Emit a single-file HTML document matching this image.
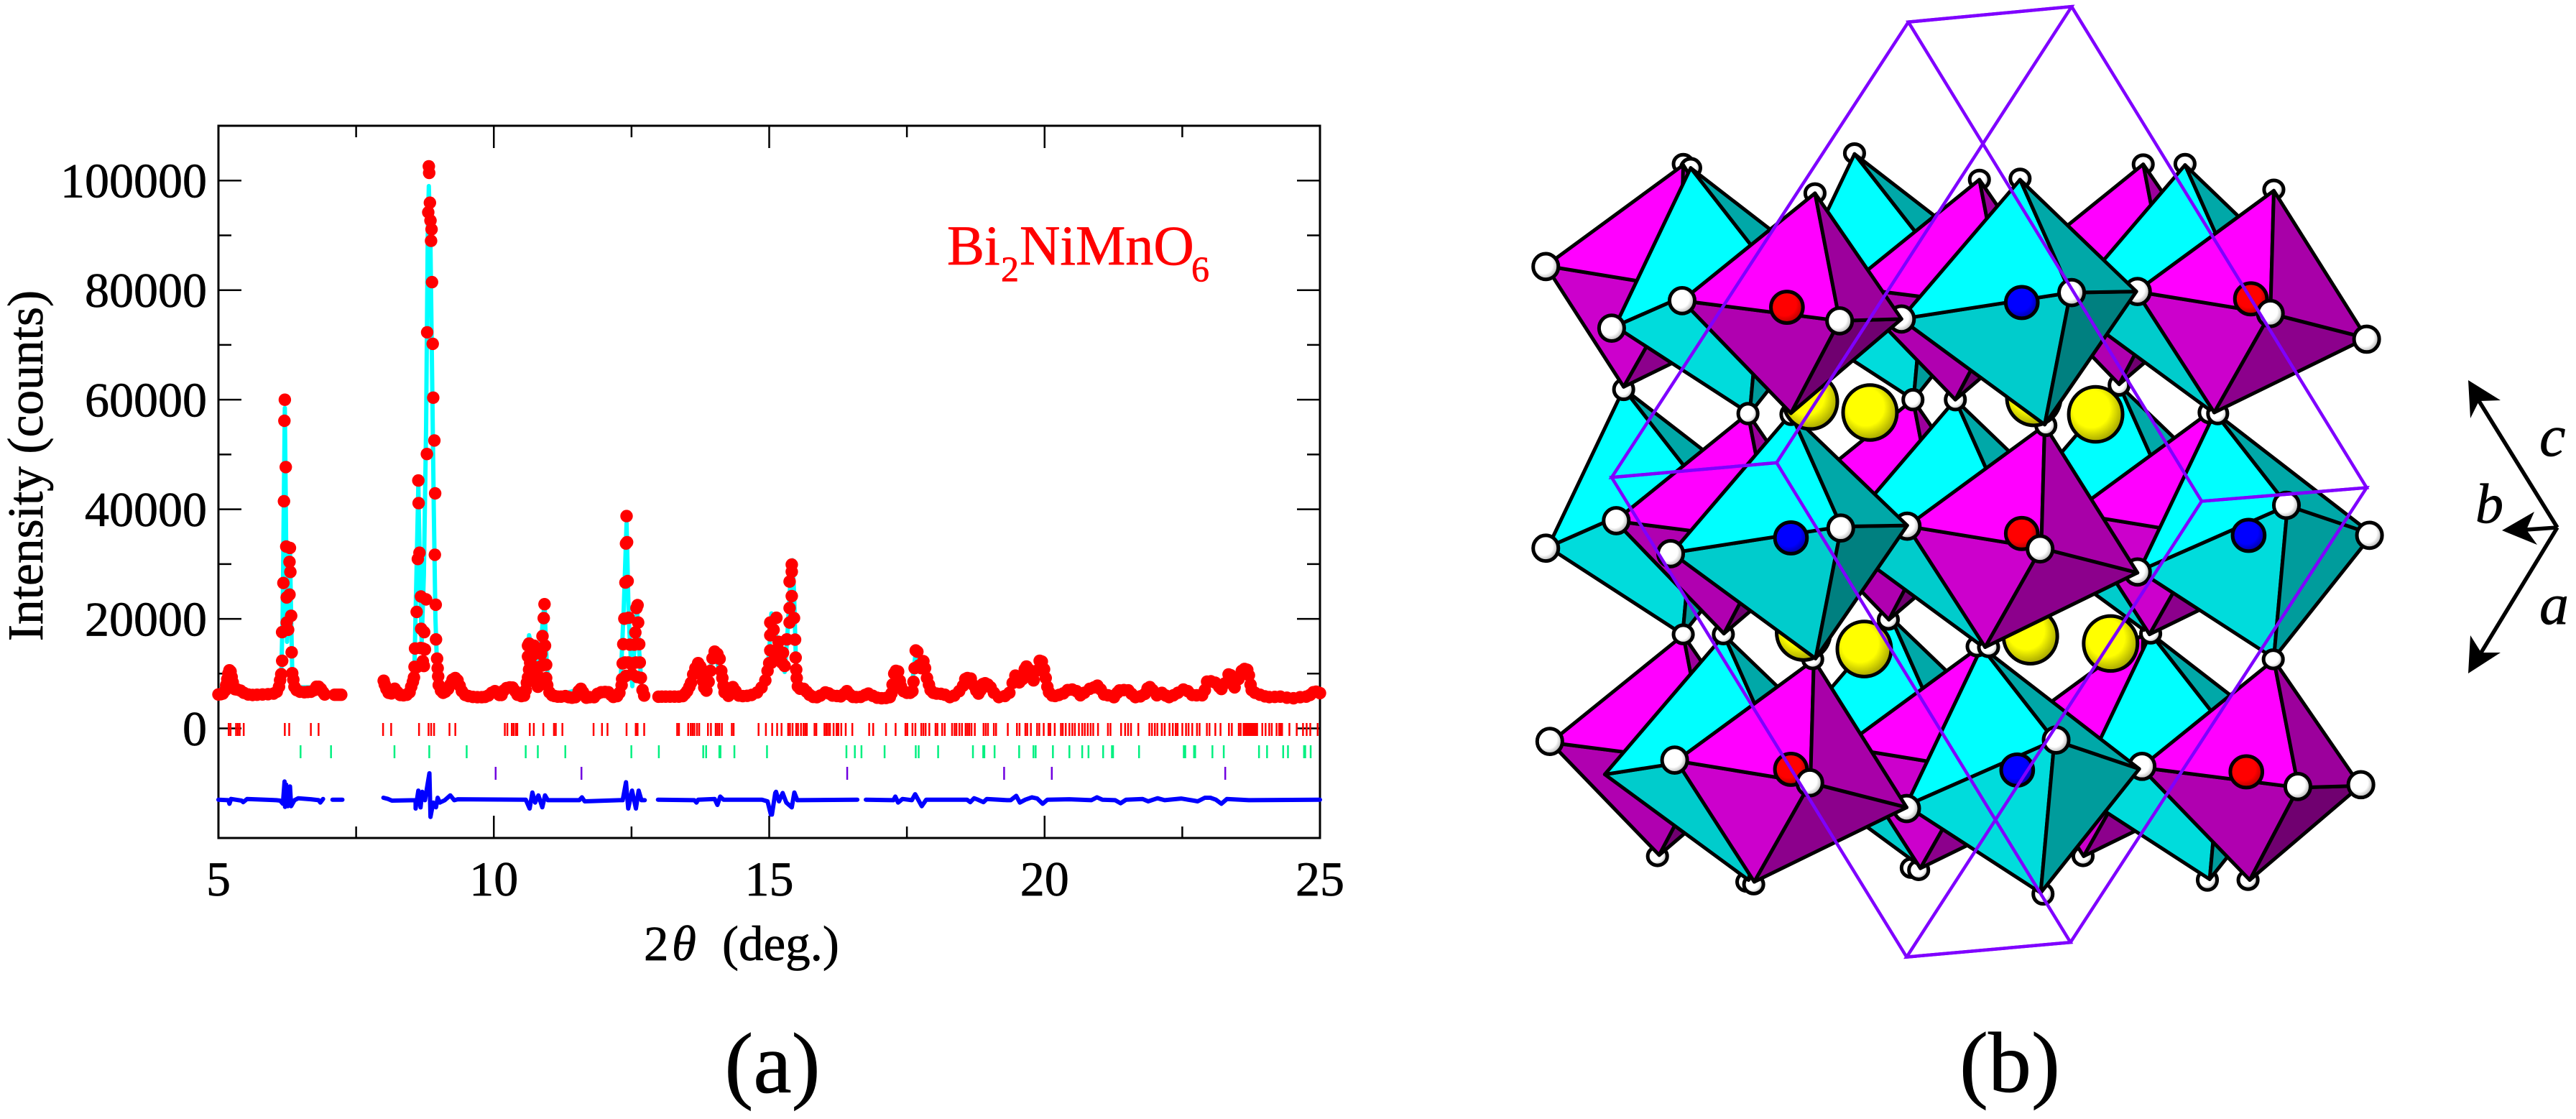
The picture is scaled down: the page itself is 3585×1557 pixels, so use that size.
<!DOCTYPE html>
<html lang="en">
<head>
<meta charset="utf-8">
<title>Bi2NiMnO6 diffraction pattern and crystal structure</title>
<style>
html,body{margin:0;padding:0;background:#fff;width:3585px;height:1557px;overflow:hidden}
svg{display:block}
text{font-family:"Liberation Serif",serif;fill:#000;stroke:#000;stroke-width:.7}
.red,.red tspan{fill:#f00;stroke:#f00}
.f{stroke:#000;stroke-width:5;stroke-linejoin:round;vector-effect:non-scaling-stroke}
.a{stroke:#000;stroke-width:5;vector-effect:non-scaling-stroke}
.cell{fill:none;stroke:#7f00ff;stroke-width:4.5;stroke-linecap:round;vector-effect:non-scaling-stroke}
</style>
</head>
<body>
<svg id="figure" xmlns="http://www.w3.org/2000/svg" width="3585" height="1557" viewBox="0 0 3585 1557">
<defs>
<radialGradient id="gO" cx=".42" cy=".42" r=".6"><stop offset="0" stop-color="#fff"/><stop offset=".6" stop-color="#fff"/><stop offset="1" stop-color="#a8a8a8"/></radialGradient>
<radialGradient id="gY" cx=".42" cy=".4" r=".62"><stop offset="0" stop-color="#ff0"/><stop offset=".55" stop-color="#ff0"/><stop offset="1" stop-color="#a0a000"/></radialGradient>
<radialGradient id="gR" cx=".42" cy=".4" r=".62"><stop offset="0" stop-color="#f00"/><stop offset=".6" stop-color="#f00"/><stop offset="1" stop-color="#b00000"/></radialGradient>
<radialGradient id="gB" cx=".42" cy=".4" r=".62"><stop offset="0" stop-color="#00f"/><stop offset=".6" stop-color="#00f"/><stop offset="1" stop-color="#0000a0"/></radialGradient>
<g id="octP">
<polygon class="f" points="-42,600 -232,293 43,348" fill="#b000b0"/>
<polygon class="f" points="-42,600 43,348 151,343" fill="#700070"/>
<polygon class="f" points="0,0 -232,293 43,348" fill="#ff00ff"/>
<polygon class="f" points="0,0 43,348 151,343" fill="#9c009c"/>
</g>
<g id="octQ">
<polygon class="f" points="-104,605 -240,275 -6,335" fill="#cc00cc"/>
<polygon class="f" points="-104,605 -6,335 162,402" fill="#8c008c"/>
<polygon class="f" points="0,0 -240,275 -6,335" fill="#ff00ff"/>
<polygon class="f" points="0,0 -6,335 162,402" fill="#a800a8"/>
</g>
<g id="octR">
<polygon class="f" points="43,668 -208,380 88,308" fill="#00cccc"/>
<polygon class="f" points="43,668 88,308 203,305" fill="#008080"/>
<polygon class="f" points="0,0 -208,380 88,308" fill="#00ffff"/>
<polygon class="f" points="0,0 88,308 203,305" fill="#00a8a8"/>
</g>
<g id="octS">
<polygon class="f" points="103,670 -132,432 127,254" fill="#00dcdc"/>
<polygon class="f" points="103,670 127,254 275,332" fill="#009c9c"/>
<polygon class="f" points="0,0 -132,432 127,254" fill="#00ffff"/>
<polygon class="f" points="0,0 127,254 275,332" fill="#00a8a8"/>
</g>
</defs>

<g id="plot"></g>

<text transform="translate(59,648) rotate(-90)" text-anchor="middle" font-size="69.5">Intensity (counts)</text>
<text y="1336" font-size="69"><tspan x="896">2</tspan><tspan x="935" font-style="italic">θ</tspan><tspan x="1005">(deg.)</tspan></text>
<text class="red" y="368" font-size="78"><tspan x="1318">Bi</tspan><tspan x="1393" y="391" font-size="50">2</tspan><tspan x="1419" y="368">NiMnO</tspan><tspan x="1658" y="391" font-size="50">6</tspan></text>
<text x="1075" y="1520" text-anchor="middle" font-size="120">(a)</text>
<text x="2797" y="1519" text-anchor="middle" font-size="120">(b)</text>

<g transform="translate(2050,0) scale(0.79719,0.5102)">
<g>
<ellipse class="a" cx="322" cy="2335" rx="17" ry="25" fill="url(#gO)"/>
<ellipse class="a" cx="478" cy="2405" rx="17" ry="25" fill="url(#gO)"/>
<ellipse class="a" cx="490" cy="2412" rx="17" ry="25" fill="url(#gO)"/>
<ellipse class="a" cx="765" cy="2367" rx="17" ry="25" fill="url(#gO)"/>
<ellipse class="a" cx="778" cy="2373" rx="17" ry="25" fill="url(#gO)"/>
<ellipse class="a" cx="995" cy="2438" rx="17" ry="27" fill="url(#gO)"/>
<ellipse class="a" cx="1065" cy="2335" rx="17" ry="25" fill="url(#gO)"/>
<ellipse class="a" cx="1282" cy="2400" rx="17" ry="27" fill="url(#gO)"/>
<ellipse class="a" cx="1353" cy="2400" rx="17" ry="25" fill="url(#gO)"/>
</g>
<g>
<use href="#octP" transform="translate(367,1732)"/>
<use href="#octR" transform="translate(730,1685)"/>
<use href="#octQ" transform="translate(1170,1730)"/>
<use href="#octR" transform="translate(438,1732)"/>
<use href="#octQ" transform="translate(885,1763)"/>
<use href="#octS" transform="translate(1183,1728)"/>
<use href="#octP" transform="translate(1398,1800)"/>
<ellipse class="a" cx="1168" cy="2090" rx="22" ry="35" fill="url(#gO)"/>
<use href="#octS" transform="translate(888,1765)"/>
<ellipse class="a" cx="757" cy="2205" rx="22" ry="35" fill="url(#gO)"/>
<use href="#octQ" transform="translate(595,1800)"/>
</g>
<ellipse class="a" cx="555" cy="2098" rx="28" ry="43" fill="url(#gR)"/>
<ellipse class="a" cx="950" cy="2100" rx="28" ry="43" fill="url(#gB)"/>
<ellipse class="a" cx="1350" cy="2105" rx="28" ry="43" fill="url(#gR)"/>
<ellipse class="a" cx="134" cy="2022" rx="22" ry="35" fill="url(#gO)"/>
<ellipse class="a" cx="352" cy="2073" rx="22" ry="35" fill="url(#gO)"/>
<ellipse class="a" cx="588" cy="2135" rx="22" ry="35" fill="url(#gO)"/>
<ellipse class="a" cx="1018" cy="2018" rx="22" ry="35" fill="url(#gO)"/>
<ellipse class="a" cx="1440" cy="2145" rx="22" ry="35" fill="url(#gO)"/>
<ellipse class="a" cx="1550" cy="2140" rx="22" ry="35" fill="url(#gO)"/>
<ellipse class="a" cx="437" cy="1730" rx="17" ry="25" fill="url(#gO)"/>
<ellipse class="a" cx="725" cy="1690" rx="17" ry="25" fill="url(#gO)"/>
<ellipse class="a" cx="593" cy="1798" rx="17" ry="25" fill="url(#gO)"/>
<ellipse class="a" cx="880" cy="1763" rx="17" ry="25" fill="url(#gO)"/>
<ellipse class="a" cx="900" cy="1765" rx="17" ry="25" fill="url(#gO)"/>
<ellipse class="a" cx="1183" cy="1728" rx="17" ry="25" fill="url(#gO)"/>
<ellipse class="a" cx="577" cy="1725" rx="47" ry="75" fill="url(#gY)"/>
<ellipse class="a" cx="973" cy="1735" rx="47" ry="75" fill="url(#gY)"/>
<g>
<use href="#octS" transform="translate(263,1060)"/>
<use href="#octP" transform="translate(768,1090)"/>
<use href="#octR" transform="translate(1128,1050)"/>
<use href="#octP" transform="translate(480,1128)"/>
<use href="#octR" transform="translate(842,1090)"/>
<use href="#octQ" transform="translate(1285,1125)"/>
<use href="#octS" transform="translate(1295,1125)"/>
<ellipse class="a" cx="1160" cy="1560" rx="22" ry="35" fill="url(#gO)"/>
<use href="#octQ" transform="translate(998,1160)"/>
<ellipse class="a" cx="758" cy="1435" rx="22" ry="35" fill="url(#gO)"/>
<use href="#octR" transform="translate(555,1128)"/>
</g>
<ellipse class="a" cx="683" cy="1770" rx="47" ry="75" fill="url(#gY)"/>
<ellipse class="a" cx="1113" cy="1755" rx="47" ry="75" fill="url(#gY)"/>
<ellipse class="a" cx="367" cy="1730" rx="17" ry="25" fill="url(#gO)"/>
<ellipse class="a" cx="1397" cy="1798" rx="17" ry="25" fill="url(#gO)"/>
<ellipse class="a" cx="555" cy="1467" rx="28" ry="43" fill="url(#gB)"/>
<ellipse class="a" cx="958" cy="1455" rx="28" ry="43" fill="url(#gR)"/>
<ellipse class="a" cx="1354" cy="1460" rx="28" ry="43" fill="url(#gB)"/>
<ellipse class="a" cx="127" cy="1495" rx="22" ry="35" fill="url(#gO)"/>
<ellipse class="a" cx="250" cy="1420" rx="22" ry="35" fill="url(#gO)"/>
<ellipse class="a" cx="345" cy="1510" rx="22" ry="35" fill="url(#gO)"/>
<ellipse class="a" cx="642" cy="1440" rx="22" ry="35" fill="url(#gO)"/>
<ellipse class="a" cx="990" cy="1497" rx="22" ry="35" fill="url(#gO)"/>
<ellipse class="a" cx="1420" cy="1378" rx="22" ry="35" fill="url(#gO)"/>
<ellipse class="a" cx="1565" cy="1460" rx="22" ry="35" fill="url(#gO)"/>
<ellipse class="a" cx="263" cy="1062" rx="17" ry="27" fill="url(#gO)"/>
<ellipse class="a" cx="555" cy="1130" rx="17" ry="27" fill="url(#gO)"/>
<ellipse class="a" cx="842" cy="1090" rx="17" ry="27" fill="url(#gO)"/>
<ellipse class="a" cx="1000" cy="1160" rx="17" ry="27" fill="url(#gO)"/>
<ellipse class="a" cx="1128" cy="1050" rx="17" ry="27" fill="url(#gO)"/>
<ellipse class="a" cx="1285" cy="1125" rx="17" ry="27" fill="url(#gO)"/>
<ellipse class="a" cx="1300" cy="1128" rx="17" ry="27" fill="url(#gO)"/>
<ellipse class="a" cx="589" cy="1095" rx="47" ry="75" fill="url(#gY)"/>
<ellipse class="a" cx="979" cy="1085" rx="47" ry="75" fill="url(#gY)"/>
<ellipse class="a" cx="367" cy="447" rx="17" ry="25" fill="url(#gO)"/>
<ellipse class="a" cx="380" cy="458" rx="17" ry="25" fill="url(#gO)"/>
<ellipse class="a" cx="666" cy="418" rx="17" ry="25" fill="url(#gO)"/>
<ellipse class="a" cx="597" cy="527" rx="17" ry="25" fill="url(#gO)"/>
<ellipse class="a" cx="884" cy="490" rx="17" ry="25" fill="url(#gO)"/>
<ellipse class="a" cx="955" cy="487" rx="17" ry="25" fill="url(#gO)"/>
<ellipse class="a" cx="1170" cy="448" rx="17" ry="25" fill="url(#gO)"/>
<ellipse class="a" cx="1243" cy="447" rx="17" ry="25" fill="url(#gO)"/>
<ellipse class="a" cx="1398" cy="517" rx="17" ry="25" fill="url(#gO)"/>
<g>
<use href="#octQ" transform="translate(367,450)"/>
<use href="#octS" transform="translate(666,420)"/>
<use href="#octP" transform="translate(1170,448)"/>
<use href="#octS" transform="translate(380,458)"/>
<use href="#octP" transform="translate(884,490)"/>
<use href="#octR" transform="translate(1243,450)"/>
<use href="#octQ" transform="translate(1398,520)"/>
<ellipse class="a" cx="1160" cy="795" rx="22" ry="35" fill="url(#gO)"/>
<use href="#octR" transform="translate(955,490)"/>
<ellipse class="a" cx="748" cy="870" rx="22" ry="35" fill="url(#gO)"/>
<use href="#octP" transform="translate(597,527)"/>
</g>
<ellipse class="a" cx="480" cy="1128" rx="17" ry="27" fill="url(#gO)"/>
<ellipse class="a" cx="768" cy="1090" rx="17" ry="27" fill="url(#gO)"/>
<ellipse class="a" cx="693" cy="1125" rx="47" ry="75" fill="url(#gY)"/>
<ellipse class="a" cx="1087" cy="1130" rx="47" ry="75" fill="url(#gY)"/>
<ellipse class="a" cx="548" cy="838" rx="28" ry="43" fill="url(#gR)"/>
<ellipse class="a" cx="958" cy="825" rx="28" ry="43" fill="url(#gB)"/>
<ellipse class="a" cx="1358" cy="815" rx="28" ry="43" fill="url(#gR)"/>
<ellipse class="a" cx="127" cy="727" rx="22" ry="35" fill="url(#gO)"/>
<ellipse class="a" cx="242" cy="895" rx="22" ry="35" fill="url(#gO)"/>
<ellipse class="a" cx="365" cy="820" rx="22" ry="35" fill="url(#gO)"/>
<ellipse class="a" cx="640" cy="875" rx="22" ry="35" fill="url(#gO)"/>
<ellipse class="a" cx="1045" cy="798" rx="22" ry="35" fill="url(#gO)"/>
<ellipse class="a" cx="1392" cy="855" rx="22" ry="35" fill="url(#gO)"/>
<ellipse class="a" cx="1560" cy="925" rx="22" ry="35" fill="url(#gO)"/>
<g>
<polygon class="cell" points="760,60 1045,18 1560,1330 1272,1367"/>
<polygon class="cell" points="760,60 1045,18 530,1262 242,1302"/>
<polygon class="cell" points="242,1302 530,1262 1043,2570 757,2610"/>
<polygon class="cell" points="1272,1367 1560,1330 1043,2570 757,2610"/>
</g>
</g>

<g>
<g>
<line x1="3559" y1="734" x2="3450" y2="558" stroke="#000" stroke-width="5.5"/>
<polygon points="3435,529 3480,557 3450,558 3438,582" fill="#000"/>
</g>
<g>
<line x1="3559" y1="734" x2="3453" y2="908" stroke="#000" stroke-width="5.5"/>
<polygon points="3435,937 3480,908 3453,908 3438,884" fill="#000"/>
</g>
<g>
<line x1="3559" y1="734" x2="3516" y2="737" stroke="#000" stroke-width="5.5"/>
<polygon points="3482,738 3527,712 3516,737 3531,758" fill="#000"/>
</g>
<text x="3534" y="634" font-size="82" font-style="italic">c</text>
<text x="3445" y="727" font-size="78" font-style="italic">b</text>
<text x="3534" y="868" font-size="82" font-style="italic">a</text>
</g>
</svg>

<script>
const xTickLabels = [5, 10, 15, 20, 25];
const xMinorTicks = [7.5, 12.5, 17.5, 22.5];
const yTickLabels = [0, 20000, 40000, 60000, 80000, 100000];
const yMinorTicks = [10000, 30000, 50000, 70000, 90000];

const observedA = [[5.00,6200],[5.04,6250],[5.08,6350],[5.12,6900],[5.14,7900],[5.16,9000],[5.18,10000],[5.20,10600],[5.22,10400],[5.24,9400],[5.26,8400],[5.28,7500],[5.30,7150],[5.34,7100],[5.40,6900],[5.46,6500],[5.54,6200],[5.62,6100],[5.70,6150],[5.80,6200],[5.90,6250],[6.00,6350],[6.06,6700],[6.10,7600],[6.12,8800],[6.14,9900],[6.156,17570],[6.157,12350],[6.18,26540],[6.19,41470],[6.198,56150],[6.206,60000],[6.223,47700],[6.231,33200],[6.24,23900],[6.24,19330],[6.265,18000],[6.29,24430],[6.298,32950],[6.29,30400],[6.306,28560],[6.32,20560],[6.33,13880],[6.34,10080],[6.36,8900],[6.38,7600],[6.42,7000],[6.48,6700],[6.56,6600],[6.62,6650],[6.68,6700],[6.74,7000],[6.78,7600],[6.82,7600],[6.86,7200],[6.90,6600],[6.93,6200],[7.11,6150],[7.15,6150],[7.19,6150],[7.23,6150]];

const observedB = [[8.00,8700],[8.02,8000],[8.05,7200],[8.09,6500],[8.14,6400],[8.20,7250],[8.25,6600],[8.30,6100],[8.36,6050],[8.42,6150],[8.47,6600],[8.50,7600],[8.53,8500],[8.55,9300],[8.56,11250],[8.57,14590],[8.60,21265],[8.62,30930],[8.65,32070],[8.635,41120],[8.63,45250],[8.677,24075],[8.68,18190],[8.71,14590],[8.735,17570],[8.69,11500],[8.75,14410],[8.77,23550],[8.785,50090],[8.79,72300],[8.81,94200],[8.82,102600],[8.827,101400],[8.84,95950],[8.85,92700],[8.87,91100],[8.86,89000],[8.877,81450],[8.89,70200],[8.90,60370],[8.92,52550],[8.935,42900],[8.93,31700],[8.945,22580],[8.95,16250],[8.97,12740],[8.98,10980],[8.60,11170],[8.67,14670],[8.71,12265],[8.73,11390],[8.99,9500],[9.00,7900],[9.04,6900],[9.08,6500],[9.12,6700],[9.17,7200],[9.21,8000],[9.25,8900],[9.30,9200],[9.34,8800],[9.38,7800],[9.42,6800],[9.48,6100],[9.54,5900],[9.62,5750],[9.70,5700],[9.78,5700],[9.84,5750],[9.90,6000],[9.96,6500],[10.02,6800],[10.06,6600],[10.10,6100],[10.14,6100],[10.18,6900],[10.23,7370],[10.29,7500],[10.34,7450],[10.39,6800],[10.43,6140],[10.50,5900],[10.55,6000],[10.58,7000],[10.60,8330],[10.62,9300],[10.64,10735],[10.62,13140],[10.62,15107],[10.64,15500],[10.73,15107],[10.86,13580],[10.93,15100],[10.884,16850],[10.906,20130],[10.92,22670],[10.95,11610],[10.95,9200],[10.97,7900],[10.66,12000],[10.70,13300],[10.75,11200],[10.80,9600],[10.80,7600],[10.72,8800],[10.86,9000],[10.88,11500],[11.01,6580],[11.06,6050],[11.10,5925],[11.16,5800],[11.22,5800],[11.30,5900],[11.36,5700],[11.42,5600],[11.48,5700],[11.54,6800],[11.58,7235],[11.62,6600],[11.68,5600],[11.74,5700],[11.82,5700],[11.88,6300],[11.95,6600],[12.02,6650],[12.08,6600],[12.13,6100],[12.17,5750],[12.24,5900],[12.28,6500],[12.32,7890],[12.33,9000],[12.34,11860],[12.35,15380],[12.37,20030],[12.39,26620],[12.40,33740],[12.41,38750],[12.42,34000],[12.43,26900],[12.45,20200],[12.47,15300],[12.49,11800],[12.51,9900],[12.53,11900],[12.55,15300],[12.57,17500],[12.59,21970],[12.61,22500],[12.62,19330],[12.64,15380],[12.65,12040],[12.67,9230],[12.70,7000],[12.73,6000],[12.38,12040],[12.44,12040],[12.58,12040],[12.40,9600],[12.60,9400]];

const observedC = [[12.99,5790],[13.05,5800],[13.12,5800],[13.20,5800],[13.28,5800],[13.36,5800],[13.43,5900],[13.47,6300],[13.51,6800],[13.55,7600],[13.58,8330],[13.62,9860],[13.66,11000],[13.71,11915],[13.75,11300],[13.78,10000],[13.80,8600],[13.82,7450],[13.86,6900],[13.90,8500],[13.93,10500],[13.97,12800],[14.01,14015],[14.06,13600],[14.10,12700],[14.13,10500],[14.15,9200],[14.17,7800],[14.19,6600],[14.26,5950],[14.30,6900],[14.34,7540],[14.39,6800],[14.45,6000],[14.52,5900],[14.60,5950],[14.68,6100],[14.78,6550],[14.86,7450],[14.93,8770],[14.97,10500],[15.00,11915],[15.02,14235],[15.02,17000],[15.02,19330],[15.13,20200],[15.08,18000],[15.17,15800],[15.04,12000],[15.10,13500],[15.15,12800],[15.20,14000],[15.23,12000],[15.28,11400],[15.25,13800],[15.32,16250],[15.37,19330],[15.37,21970],[15.41,24160],[15.37,26800],[15.41,29900],[15.41,28600],[15.45,20140],[15.47,16200],[15.48,12920],[15.49,10730],[15.50,9200],[15.52,7670],[15.56,7250],[15.625,7235],[15.68,6700],[15.73,6140],[15.80,5750],[15.865,5700],[15.93,6000]];

const observedD = [[16.02,6580],[16.08,6400],[16.15,6000],[16.23,5925],[16.30,5850],[16.36,6300],[16.41,6800],[16.46,6200],[16.52,5750],[16.58,5705],[16.66,5750],[16.74,6100],[16.80,6360],[16.88,5950],[16.96,5600],[17.04,5500],[17.12,5550],[17.19,5705],[17.22,6400],[17.24,8000],[17.27,10000],[17.30,10515],[17.34,10400],[17.37,8700],[17.39,7700],[17.44,6800],[17.50,6500],[17.56,6500],[17.60,6800],[17.62,8500],[17.64,11000],[17.66,14230],[17.69,14000],[17.72,11500],[17.76,11000],[17.80,12265],[17.83,11000],[17.865,9200],[17.90,8000],[17.93,7000],[17.98,6500],[18.04,6360],[18.12,6300],[18.19,6140],[18.28,5705],[18.36,6000],[18.45,6800],[18.52,7800],[18.56,9000],[18.60,9200],[18.66,9100],[18.72,7800],[18.76,6900],[18.80,6360],[18.84,7000],[18.88,8100],[18.92,8240],[18.97,8000],[19.02,7500],[19.08,6500],[19.17,5705],[19.28,5925],[19.36,6500],[19.42,8300],[19.47,9640],[19.52,9000],[19.54,8400],[19.60,9000],[19.64,10800],[19.67,11300],[19.72,10700],[19.76,9500],[19.80,8770],[19.85,10500],[19.91,12350],[19.95,12200],[19.99,10800],[20.02,9200],[20.05,7600],[20.08,6600],[20.14,6000],[20.19,5925]];

const observedE = [[20.26,6100],[20.34,6400],[20.42,7000],[20.50,7105],[20.58,6800],[20.65,6055],[20.72,6500],[20.82,7235],[20.90,7500],[20.96,7800],[21.02,7100],[21.08,6200],[21.15,6055],[21.26,5700],[21.32,6500],[21.36,6930],[21.44,7000],[21.52,6950],[21.58,6300],[21.65,5705],[21.74,5850],[21.82,6300],[21.87,7300],[21.91,7540],[21.96,7000],[22.04,6055],[22.13,6490],[22.20,6000],[22.26,5705],[22.34,6050],[22.42,6500],[22.52,7105],[22.60,6800],[22.68,6100],[22.76,6050],[22.86,6050],[22.91,7000],[22.95,8550],[23.02,8600],[23.10,8330],[23.17,7600],[23.21,7200],[23.27,8200],[23.34,9860],[23.38,9700],[23.42,8000],[23.45,7500],[23.52,9000],[23.58,10500],[23.63,10860],[23.68,10700],[23.71,9700],[23.74,8000],[23.76,7000],[23.82,6500],[23.91,6140],[24.00,5850],[24.08,5705],[24.18,5750],[24.28,5800],[24.40,5600],[24.52,5500],[24.64,5700],[24.75,5800],[24.82,6100],[24.88,6600],[24.93,6710],[25.00,6450]];

const calculatedA = [[5,6200],[5.19,10400],[5.3,7100],[6.0,6300],[6.1,7800],[6.14,10000],[6.165,20000],[6.19,44000],[6.205,58500],[6.22,44000],[6.245,15800],[6.28,27000],[6.30,32500],[6.32,20000],[6.34,10500],[6.38,7500],[6.82,7500],[6.93,6200],[7.23,6150]];
const calculatedB = [[8.0,8600],[8.2,7200],[8.4,6100],[8.5,8000],[8.56,12000],[8.60,30000],[8.63,44500],[8.66,28000],[8.69,15700],[8.73,28000],[8.77,55000],[8.80,90000],[8.82,99000],[8.85,88000],[8.88,64000],[8.91,40000],[8.94,20000],[8.97,11000],[9.02,7500],[9.3,9000],[9.6,5800],[10.23,7400],[10.43,6100],[10.5,5900],[10.6,9000],[10.64,17000],[10.68,15000],[10.78,12500],[10.84,14000],[10.92,23000],[10.95,14000],[10.99,7500],[11.1,5900],[11.58,7200],[11.7,5700],[11.95,6600],[12.17,5800],[12.3,7800],[12.36,22000],[12.41,37500],[12.45,20000],[12.515,7700],[12.56,16000],[12.60,22000],[12.64,14000],[12.68,8000],[12.73,6000]];
const calculatedC = [[12.99,5800],[13.43,5900],[13.71,11900],[13.82,7400],[14.01,14000],[14.19,6500],[14.34,7500],[14.45,6000],[14.8,6600],[14.95,9000],[15.0,14000],[15.04,21000],[15.09,20500],[15.15,14000],[15.28,10300],[15.33,17000],[15.38,26000],[15.42,30700],[15.45,25000],[15.48,14000],[15.51,8000],[15.7,6000],[16.41,6800],[16.96,5600],[17.19,5700],[17.30,10400],[17.45,6800],[17.58,6700],[17.66,14000],[17.73,11300],[17.80,12200],[17.95,6900],[18.28,5700],[18.6,9200],[18.8,6400],[18.92,8200],[19.17,5700],[19.28,5900],[19.47,9600],[19.54,8400],[19.67,11300],[19.8,8800],[19.91,12300],[20.08,6600],[20.19,5900],[20.5,7100],[20.65,6050],[20.96,7800],[21.15,6050],[21.26,5700],[21.36,6900],[21.52,6900],[21.65,5700],[21.91,7500],[22.04,6050],[22.26,5700],[22.52,7100],[22.86,6050],[22.95,8500],[23.1,8300],[23.21,7200],[23.34,9800],[23.45,7500],[23.63,10800],[23.76,7000],[23.91,6100],[24.08,5700],[24.52,5500],[24.93,6700],[25,6450]];

const differenceA = [[5.0,-13010],[5.18,-13100],[5.2,-13754],[5.23,-12880],[5.42,-13185],[5.45,-13448],[5.52,-12880],[6.05,-13100],[6.12,-13185],[6.17,-13754],[6.2,-9687],[6.21,-14322],[6.23,-10255],[6.26,-14190],[6.3,-10600],[6.32,-14190],[6.38,-13100],[6.45,-12750],[6.68,-12930],[6.82,-13100],[6.85,-13535],[6.9,-12880]];
const differenceB = [[7.07,-13010],[7.25,-13010]];
const differenceC = [[7.996,-12660],[8.08,-12880],[8.15,-13185],[8.58,-13100],[8.58,-14628],[8.63,-11350],[8.67,-14410],[8.70,-11567],[8.75,-13100],[8.83,-8200],[8.85,-16160],[8.9,-13535],[8.95,-14400],[8.98,-12660],[9.02,-13535],[9.11,-13100],[9.21,-12223],[9.28,-13100],[9.35,-12930],[10.58,-13010],[10.65,-14628],[10.7,-11700],[10.75,-13535],[10.81,-12223],[10.88,-14400],[10.93,-12223],[10.98,-13100],[11.55,-13100],[11.6,-12573],[11.65,-13316],[12.28,-13100],[12.34,-13100],[12.4,-9818],[12.44,-14628],[12.51,-11350],[12.58,-14628],[12.63,-11350],[12.68,-13100],[12.74,-13100]];
const differenceD = [[12.98,-13010],[13.64,-13100],[13.68,-13535],[13.71,-13010],[14.01,-12880],[14.06,-13972],[14.11,-12440],[14.17,-13010],[14.87,-13010],[14.97,-13316],[15.03,-15720],[15.05,-15720],[15.11,-11786],[15.124,-11567],[15.177,-13316],[15.244,-11786],[15.31,-13535],[15.41,-14410],[15.457,-11700],[15.51,-13100],[16.6,-13010]];
const differenceE = [[16.755,-13010],[17.255,-13100],[17.29,-12440],[17.34,-13535],[17.42,-12880],[17.59,-13100],[17.65,-12005],[17.77,-14190],[17.85,-13010],[18.59,-13010],[18.65,-13448],[18.72,-12748],[18.79,-13010],[18.89,-13448],[18.95,-12880],[19.32,-13100],[19.385,-13100],[19.485,-12310],[19.55,-13535],[19.65,-13010],[19.77,-12573],[19.865,-12792],[19.965,-13754],[20.05,-13010],[20.45,-12930],[20.85,-13100],[20.95,-12573],[21.05,-13010],[21.28,-13100],[21.38,-13666],[21.48,-13010],[21.78,-12880],[21.88,-13316],[22.05,-12748],[22.18,-13100],[22.48,-12792],[22.71,-13185],[22.78,-13316],[22.91,-12660],[23.01,-12660],[23.11,-13010],[23.21,-13754],[23.31,-12880],[23.71,-13100],[25.0,-13010]];

const braggMain = [5.186,5.22,5.32,5.353,5.386,5.459,6.205,6.285,6.678,6.818,7.989,8.136,8.642,8.815,8.862,8.915,9.195,9.301,10.2,10.246,10.326,10.36,10.4,10.426,10.653,10.726,10.899,11.092,11.125,11.245,11.811,11.964,12.064,12.41,12.577,12.61,12.73,13.329,13.362,13.529,13.575,13.609,13.642,13.689,13.729,13.888,13.942,14.028,14.061,14.095,14.141,14.321,14.354,14.807,14.94,15.054,15.144,15.224,15.344,15.377,15.424,15.49,15.523,15.577,15.623,15.657,15.683,15.823,15.856,16.003,16.036,16.069,16.103,16.169,16.223,16.256,16.309,16.389,16.509,16.815,16.888,17.121,17.295,17.474,17.508,17.601,17.654,17.761,17.8,17.84,17.907,18.02,18.054,18.14,18.187,18.32,18.366,18.4,18.453,18.5,18.566,18.6,18.633,18.673,18.733,18.892,18.932,18.972,19.079,19.119,19.332,19.498,19.545,19.651,19.685,19.751,19.864,19.904,19.984,20.071,20.104,20.184,20.297,20.33,20.384,20.45,20.504,20.55,20.623,20.683,20.73,20.783,20.836,20.883,20.97,21.15,21.196,21.389,21.462,21.516,21.569,21.702,21.902,21.949,22.002,22.048,22.128,22.181,22.268,22.328,22.381,22.415,22.501,22.568,22.614,22.681,22.767,22.814,22.947,22.994,23.1,23.194,23.347,23.4,23.526,23.56,23.613,23.64,23.666,23.69,23.713,23.74,23.76,23.79,23.813,23.836,23.859,23.953,24.012,24.079,24.125,24.212,24.259,24.285,24.312,24.445,24.578,24.692,24.758,24.824,24.958];
const braggSecond = [6.491,7.044,8.196,8.828,9.507,10.579,10.799,11.298,12.497,12.996,13.802,13.855,14.095,14.115,14.368,14.96,16.402,16.555,16.675,17.095,17.661,17.714,18.067,18.699,18.886,18.906,19.092,19.538,19.798,19.838,20.151,20.45,20.683,20.797,21.063,21.223,21.243,21.715,22.528,22.554,22.714,22.734,23.047,23.253,23.893,24.039,24.332,24.419,24.711,24.732,24.831];
const braggThird = [10.033,11.591,16.416,19.265,20.131,23.28];

const SVGNS = 'http://www.w3.org/2000/svg';
const plot = document.getElementById('plot');
function xAxis(v){ return 304 + (v - 5) * (1837 - 304) / 20; }
function yAxis(v){ return 1166 - (v + 20000) * (1166 - 175) / 130000; }
function add(tag, attrs, parent){
  const el = document.createElementNS(SVGNS, tag);
  for (const k in attrs) el.setAttribute(k, attrs[k]);
  (parent || plot).appendChild(el);
  return el;
}
function tickLine(x1, y1, x2, y2, width, name){
  const el = add('line', {x1: x1, y1: y1, x2: x2, y2: y2, stroke: '#000', 'stroke-width': width});
  
  
}

const frame = add('rect', {x: 304, y: 175, width: 1533, height: 991, fill: 'none', stroke: '#000', 'stroke-width': 3});



xTickLabels.forEach(function(v){
  const x = xAxis(v);
  tickLine(x, 1166, x, 1135, 2.5, 'x-major-tick');
  tickLine(x, 175, x, 206, 2.5, 'x-major-tick-top');
  const t = add('text', {x: x, y: 1246, 'text-anchor': 'middle', 'font-size': 68});
  
  
  t.textContent = v;
});
xMinorTicks.forEach(function(v){
  const x = xAxis(v);
  tickLine(x, 1166, x, 1150, 2.5, 'x-minor-tick');
  tickLine(x, 175, x, 191, 2.5, 'x-minor-tick-top');
});
yTickLabels.forEach(function(v){
  const y = yAxis(v);
  tickLine(304, y, 336, y, 2.5, 'y-major-tick');
  tickLine(1837, y, 1805, y, 2.5, 'y-major-tick-right');
  const t = add('text', {x: 288, y: y + 23.5, 'text-anchor': 'end', 'font-size': 68});
  
  
  t.textContent = v;
});
yMinorTicks.forEach(function(v){
  const y = yAxis(v);
  tickLine(304, y, 322, y, 2.5, 'y-minor-tick');
  tickLine(1837, y, 1819, y, 2.5, 'y-minor-tick-right');
});

function drawLine(points, color, width, name){
  const d = points.map(function(p){ return xAxis(p[0]).toFixed(1) + ',' + yAxis(p[1]).toFixed(1); }).join(' ');
  const el = add('polyline', {points: d, fill: 'none', stroke: color, 'stroke-width': width, 'stroke-linejoin': 'round', 'stroke-linecap': 'round'});
  
  
}
[calculatedA, calculatedB, calculatedC].forEach(function(seg){
  drawLine(seg, '#00ffff', 6, 'calculated-line');
});
[observedA, observedB, observedC, observedD, observedE].forEach(function(seg){
  seg.forEach(function(p){
    const c = add('circle', {cx: xAxis(p[0]).toFixed(1), cy: yAxis(p[1]).toFixed(1), r: 8.7, fill: '#ff0000'});
    
    
  });
});
function drawBragg(list, center, color, name){
  list.forEach(function(v){
    const x = xAxis(v);
    const l = add('line', {x1: x, x2: x, y1: center - 9, y2: center + 9, stroke: color, 'stroke-width': 2.5});
    
    
  });
}
drawBragg(braggMain, 1015, '#ff0000', 'bragg-tick-main-phase');
drawBragg(braggSecond, 1046, '#00f080', 'bragg-tick-second-phase');
drawBragg(braggThird, 1076, '#7000e0', 'bragg-tick-third-phase');
[differenceA, differenceB, differenceC, differenceD, differenceE].forEach(function(seg){
  drawLine(seg, '#0000ff', 6, 'difference-line');
});
</script>
</body>
</html>
